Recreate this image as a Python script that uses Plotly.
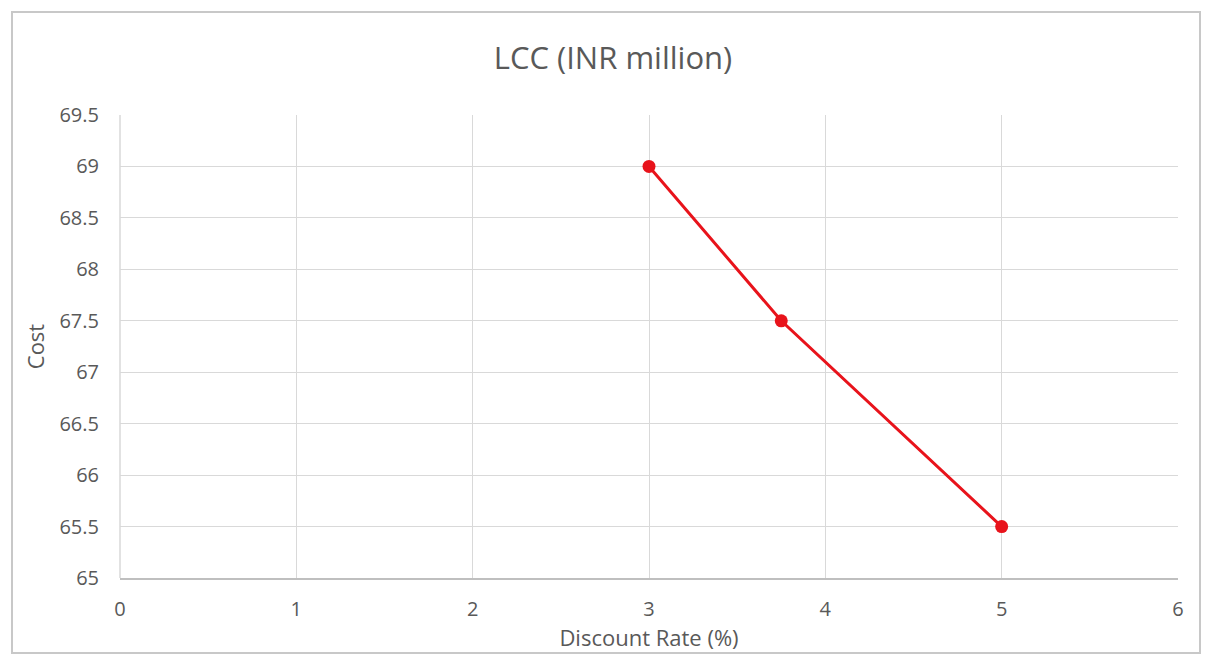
import plotly.graph_objects as go

# Life-cycle cost vs. discount rate
discount_rate = [3, 3.75, 5]
lcc_cost = [69.0, 67.5, 65.5]

x_ticks = [0, 1, 2, 3, 4, 5, 6]
y_ticks = [65, 65.5, 66, 66.5, 67, 67.5, 68, 68.5, 69, 69.5]

TEXT = "#595959"
GRID = "#d9d9d9"
FONT = "Open Sans, Liberation Sans, sans-serif"

fig = go.Figure()
fig.add_trace(go.Scatter(
    x=discount_rate, y=lcc_cost,
    mode="lines+markers",
    line=dict(color="#e8131b", width=3),
    marker=dict(color="#e8131b", size=13),
    showlegend=False,
))

W, H = 1211, 655
L, R, T, B = 120, 33, 115, 77
pw, ph = W - L - R, H - T - B

def px_to_paper_x(px):
    return (px - L) / pw

def px_to_paper_y(py):
    return (H - B - py) / ph

fig.update_layout(
    width=W, height=H,
    margin=dict(l=L, r=R, t=T, b=B, pad=0),
    paper_bgcolor="white", plot_bgcolor="white",
    font=dict(family=FONT, color=TEXT, size=20),
    title=dict(text="LCC (INR million)", x=613 / W, xanchor="center",
               y=1 - 58 / H, yanchor="middle",
               font=dict(size=31, color=TEXT, family=FONT)),
    xaxis=dict(
        range=[0, 6], tickvals=x_ticks, ticktext=[str(v) for v in x_ticks],
        showgrid=True, gridcolor=GRID, gridwidth=1,
        zeroline=False, showline=True, linecolor="#bfbfbf", linewidth=1.5,
        ticks="", ticklabelstandoff=12,
        title=dict(text="Discount Rate (%)", standoff=4, font=dict(size=22, color=TEXT)),
    ),
    yaxis=dict(
        range=[65, 69.5], tickvals=y_ticks,
        showgrid=True, gridcolor=GRID, gridwidth=1,
        zeroline=False, showline=False,
        ticks="", ticklabelstandoff=20,
        title=dict(text="Cost", standoff=8, font=dict(size=22, color=TEXT)),
    ),
    shapes=[
        # chart-area frame
        dict(type="rect", xref="paper", yref="paper",
             x0=px_to_paper_x(12), x1=px_to_paper_x(1200),
             y0=px_to_paper_y(653), y1=px_to_paper_y(12),
             line=dict(color="#c8c8c8", width=2), fillcolor="rgba(0,0,0,0)",
             layer="below"),
        # left edge of plot area
        dict(type="line", xref="paper", yref="paper", x0=0, x1=0, y0=0, y1=1,
             line=dict(color=GRID, width=1.5), layer="below"),
    ],
)

fig.write_html("out.html")
